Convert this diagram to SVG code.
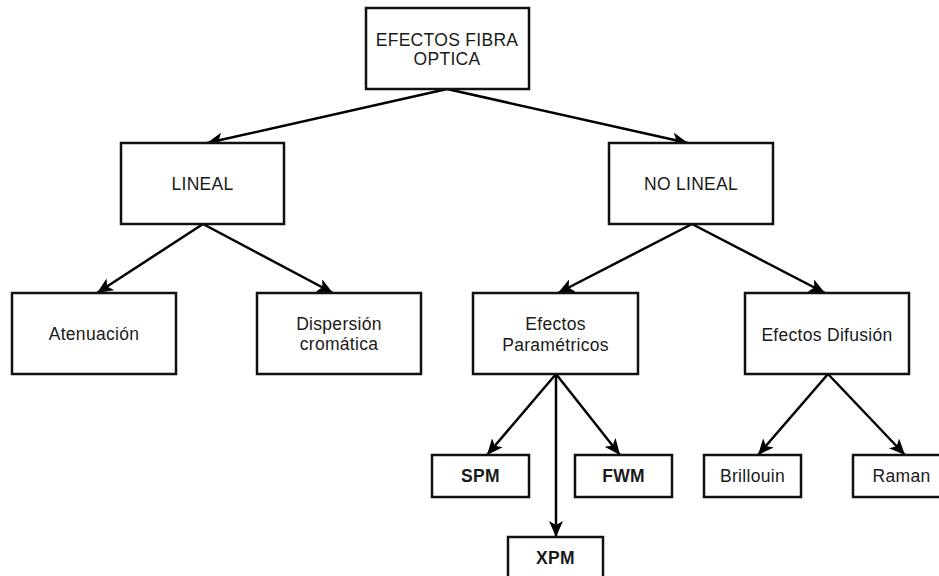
<svg xmlns="http://www.w3.org/2000/svg" width="939" height="576" viewBox="0 0 939 576">
<style>
.box{fill:#fff;stroke:#111;stroke-width:2.5}
.t{font-family:"Liberation Sans",Arial,sans-serif;font-size:17.5px;fill:#1a1a1a;text-anchor:middle;letter-spacing:0.3px}
.b{font-weight:bold}
.edge{stroke:#000;stroke-width:2.5;fill:none;marker-end:url(#arr)}
</style>
<defs>
<marker id="arr" markerUnits="userSpaceOnUse" markerWidth="17" markerHeight="14" refX="16" refY="7" orient="auto" viewBox="0 0 17 14">
<path d="M0,0 L16,7 L0,14 L4,7 Z" fill="#000"/>
</marker>
</defs>
<rect width="939" height="576" fill="#fff"/>
<g id="connectors">
<line class="edge" x1="447" y1="89" x2="207" y2="143"/>
<line class="edge" x1="447" y1="89" x2="688" y2="143"/>
<line class="edge" x1="203" y1="224" x2="97" y2="293"/>
<line class="edge" x1="203" y1="224" x2="333" y2="293"/>
<line class="edge" x1="692" y1="224" x2="558" y2="293"/>
<line class="edge" x1="692" y1="224" x2="825" y2="293"/>
<line class="edge" x1="556" y1="374" x2="487" y2="455"/>
<line class="edge" x1="556" y1="374" x2="556" y2="537"/>
<line class="edge" x1="556" y1="374" x2="620" y2="455"/>
<line class="edge" x1="828" y1="374" x2="758" y2="455"/>
<line class="edge" x1="828" y1="374" x2="905" y2="455"/>
</g>
<g id="n-efectos">
<rect class="box" x="366" y="8" width="163" height="81"/>
<text class="t" x="447" y="46">EFECTOS FIBRA</text>
<text class="t" x="447" y="65">OPTICA</text>
</g>
<g id="n-lineal">
<rect class="box" x="121" y="143" width="163" height="81"/>
<text class="t" x="202.5" y="190">LINEAL</text>
</g>
<g id="n-nolineal">
<rect class="box" x="609" y="143" width="164" height="81"/>
<text class="t" x="691" y="190">NO LINEAL</text>
</g>
<g id="n-atenuacion">
<rect class="box" x="12" y="293" width="164" height="81"/>
<text class="t" x="94" y="340">Atenuación</text>
</g>
<g id="n-dispersion">
<rect class="box" x="257" y="293" width="164" height="81"/>
<text class="t" x="339" y="330">Dispersión</text>
<text class="t" x="339" y="350">cromática</text>
</g>
<g id="n-parametricos">
<rect class="box" x="473" y="293" width="165" height="81"/>
<text class="t" x="555.5" y="330">Efectos</text>
<text class="t" x="555.5" y="351">Paramétricos</text>
</g>
<g id="n-difusion">
<rect class="box" x="745" y="293" width="164" height="81"/>
<text class="t" x="827" y="341">Efectos Difusión</text>
</g>
<g id="n-spm">
<rect class="box" x="432" y="455" width="97" height="42"/>
<text class="t b" x="480.5" y="482">SPM</text>
</g>
<g id="n-fwm">
<rect class="box" x="575" y="455" width="97" height="42"/>
<text class="t b" x="623.5" y="482">FWM</text>
</g>
<g id="n-brillouin">
<rect class="box" x="704" y="455" width="97" height="42"/>
<text class="t" x="752.5" y="482">Brillouin</text>
</g>
<g id="n-raman">
<rect class="box" x="853" y="455" width="97" height="42"/>
<text class="t" x="901.5" y="482">Raman</text>
</g>
<g id="n-xpm">
<rect class="box" x="508" y="537" width="95" height="42"/>
<text class="t b" x="555.5" y="564">XPM</text>
</g>
</svg>
